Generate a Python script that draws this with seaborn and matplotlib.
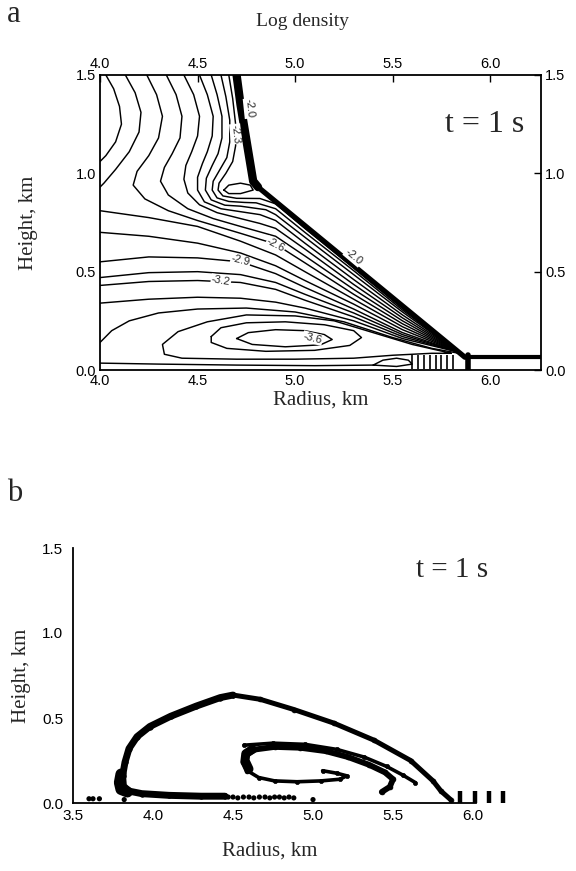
import matplotlib
matplotlib.use("Agg")
import matplotlib.pyplot as plt
import pandas as pd
import seaborn as sns

sns.set_theme(style="white")
plt.rcParams["font.family"] = ["Liberation Sans", "DejaVu Sans"]
SERIF = ["Liberation Serif", "DejaVu Serif"]

# ---------------- panel a: log-density contours (radius km, height km) ----------------
edge_top = [(4.70, 1.50), (4.72, 1.35), (4.745, 1.20), (4.77, 1.05), (4.785, 0.96), (4.81, 0.93)]
edge_slope = [(4.81, 0.93), (5.87, 0.065)]
edge_floor = [(5.87, 0.065), (6.26, 0.065)]
edge_foot = [(5.885, 0.0), (5.885, 0.075)]

c_u1 = [(4.03, 1.50), (4.07, 1.43), (4.10, 1.34), (4.11, 1.25), (4.08, 1.16), (4.03, 1.09), (4.00, 1.06)]
c_u2 = [(4.13, 1.50), (4.18, 1.41), (4.21, 1.31), (4.20, 1.21), (4.15, 1.11), (4.08, 1.02), (4.02, 0.95), (4.00, 0.93)]
c_u3 = [(4.24, 1.50), (4.29, 1.40), (4.32, 1.29), (4.30, 1.18), (4.25, 1.09), (4.19, 1.01), (4.17, 0.94),
        (4.23, 0.87), (4.35, 0.81), (4.50, 0.76), (4.72, 0.695), (4.90, 0.64), (5.05, 0.545), (5.30, 0.385),
        (5.55, 0.235), (5.84, 0.09)]
c_u4 = [(4.34, 1.50), (4.39, 1.40), (4.42, 1.29), (4.41, 1.18), (4.37, 1.10), (4.33, 1.03), (4.31, 0.96),
        (4.35, 0.89), (4.45, 0.82), (4.58, 0.77), (4.72, 0.73), (4.90, 0.68), (5.05, 0.58), (5.30, 0.41),
        (5.55, 0.25), (5.84, 0.09)]
c_u5 = [(4.43, 1.50), (4.48, 1.40), (4.51, 1.29), (4.50, 1.19), (4.47, 1.11), (4.44, 1.04), (4.43, 0.97),
        (4.45, 0.90), (4.51, 0.84), (4.60, 0.80), (4.72, 0.77), (4.82, 0.745), (4.90, 0.72), (5.05, 0.615),
        (5.30, 0.435), (5.55, 0.265), (5.84, 0.09)]
c_u6 = [(4.51, 1.50), (4.55, 1.40), (4.58, 1.29), (4.575, 1.19), (4.55, 1.11), (4.525, 1.05), (4.50, 0.98),
        (4.50, 0.915), (4.535, 0.855), (4.62, 0.82), (4.72, 0.805), (4.82, 0.79), (4.90, 0.76), (5.05, 0.645),
        (5.30, 0.46), (5.55, 0.28), (5.84, 0.09)]
c_u7 = [(4.57, 1.50), (4.60, 1.40), (4.625, 1.29), (4.625, 1.18), (4.605, 1.10), (4.575, 1.04), (4.545, 0.975),
        (4.54, 0.915), (4.57, 0.865), (4.64, 0.838), (4.72, 0.833), (4.85, 0.815), (4.90, 0.79), (5.05, 0.675),
        (5.30, 0.485), (5.55, 0.295), (5.84, 0.09)]
c_u8 = [(4.62, 1.50), (4.645, 1.39), (4.665, 1.27), (4.665, 1.16), (4.65, 1.08), (4.615, 1.02), (4.58, 0.96),
        (4.575, 0.915), (4.60, 0.875), (4.66, 0.857), (4.74, 0.852), (4.80, 0.85), (4.90, 0.82), (5.05, 0.70),
        (5.30, 0.505), (5.55, 0.305), (5.84, 0.09)]
c_u9 = [(4.66, 1.50), (4.68, 1.38), (4.695, 1.25), (4.695, 1.14), (4.68, 1.06), (4.645, 1.00), (4.61, 0.95),
        (4.605, 0.915), (4.63, 0.885), (4.70, 0.873), (4.82, 0.872), (4.90, 0.845), (5.05, 0.72), (5.30, 0.52),
        (5.55, 0.315), (5.84, 0.09)]
c_eye = [(4.635, 0.915), (4.66, 0.94), (4.72, 0.95), (4.77, 0.94), (4.785, 0.915), (4.72, 0.897),
         (4.66, 0.897), (4.635, 0.915)]

fan_r = [4.00, 4.25, 4.50, 4.72, 4.90, 5.05, 5.30, 5.55, 5.84]
c_f8 = [0.81, 0.775, 0.73, 0.655, 0.585, 0.50, 0.36, 0.22, 0.09]
c_f9 = [0.70, 0.68, 0.645, 0.595, 0.53, 0.455, 0.335, 0.205, 0.09]
c_f10 = [0.55, 0.575, 0.57, 0.55, 0.49, 0.42, 0.31, 0.19, 0.09]
c_f11 = [0.47, 0.495, 0.50, 0.485, 0.445, 0.385, 0.29, 0.18, 0.09]
c_f12 = [0.43, 0.45, 0.455, 0.445, 0.41, 0.355, 0.27, 0.17, 0.09]
c_f13 = [0.34, 0.36, 0.37, 0.365, 0.345, 0.315, 0.25, 0.16, 0.09]

c_l4 = [(4.00, 0.14), (4.06, 0.20), (4.15, 0.25), (4.30, 0.29), (4.50, 0.31), (4.75, 0.315), (5.00, 0.295),
        (5.25, 0.245), (5.50, 0.165), (5.70, 0.11), (5.84, 0.085)]
c_l3 = [(5.80, 0.085), (5.60, 0.13), (5.40, 0.19), (5.20, 0.25), (5.00, 0.275), (4.75, 0.28), (4.55, 0.245),
        (4.40, 0.195), (4.32, 0.13), (4.33, 0.08), (4.42, 0.06), (4.70, 0.055), (5.00, 0.055), (5.30, 0.06),
        (5.50, 0.075), (5.70, 0.085), (5.80, 0.085)]
c_l2 = [(4.57, 0.17), (4.62, 0.215), (4.75, 0.24), (4.95, 0.245), (5.15, 0.23), (5.30, 0.20), (5.34, 0.165),
        (5.28, 0.125), (5.10, 0.10), (4.85, 0.095), (4.65, 0.11), (4.57, 0.14), (4.57, 0.17)]
c_l1 = [(4.70, 0.16), (4.76, 0.19), (4.90, 0.205), (5.05, 0.20), (5.15, 0.18), (5.19, 0.155), (5.13, 0.128),
        (4.95, 0.118), (4.78, 0.13), (4.70, 0.16)]
c_floor = [(4.00, 0.035), (4.30, 0.03), (4.70, 0.025), (5.10, 0.022), (5.40, 0.025)]
c_lens = [(5.40, 0.025), (5.45, 0.05), (5.52, 0.06), (5.58, 0.05), (5.60, 0.03), (5.52, 0.018), (5.40, 0.025)]
comb_r = [5.60, 5.63, 5.66, 5.69, 5.72, 5.75, 5.78, 5.81]

contour_tags = [("-2.3", 4.695, 1.20, -84), ("-2.0", 4.765, 1.33, -84), ("-2.0", 5.30, 0.575, -40),
                ("-2.6", 4.90, 0.635, -28), ("-2.9", 4.72, 0.555, -14), ("-3.2", 4.62, 0.455, -10),
                ("-3.6", 5.09, 0.162, -14)]

ticks_r = [4.0, 4.5, 5.0, 5.5, 6.0]
ticks_h = [0.0, 0.5, 1.0, 1.5]

# ---------------- panel b: tracer particles at t = 1 s ----------------
outer_right_r = [5.86, 5.80, 5.75, 5.61, 5.38, 5.13, 4.88, 4.67, 4.50]
outer_right_h = [0.02, 0.07, 0.13, 0.25, 0.37, 0.47, 0.55, 0.61, 0.635]
outer_left_r = [4.50, 4.42, 4.27, 4.11, 3.98, 3.90, 3.85, 3.825, 3.81, 3.815, 3.85, 3.93, 4.10, 4.30, 4.45]
outer_left_h = [0.635, 0.62, 0.57, 0.51, 0.45, 0.39, 0.32, 0.24, 0.16, 0.10, 0.07, 0.055, 0.045, 0.04, 0.04]
knot_r = [3.80, 3.79, 3.80, 3.84]
knot_h = [0.17, 0.12, 0.08, 0.065]
inner_tail_r = [5.06, 5.15, 5.21, 5.17, 5.05, 4.90, 4.76, 4.66, 4.59]
inner_tail_h = [0.19, 0.175, 0.16, 0.14, 0.13, 0.125, 0.13, 0.15, 0.19]
inner_head_r = [4.59, 4.565, 4.58, 4.64, 4.76, 4.92, 5.08, 5.22, 5.35, 5.45, 5.50, 5.48, 5.43]
inner_head_h = [0.19, 0.24, 0.285, 0.315, 0.33, 0.325, 0.305, 0.27, 0.225, 0.18, 0.14, 0.095, 0.065]
inner_knot_r = [4.60, 4.575, 4.58, 4.62]
inner_knot_h = [0.20, 0.25, 0.29, 0.315]
strand_r = [4.57, 4.75, 4.95, 5.15, 5.32, 5.46, 5.56, 5.64]
strand_h = [0.34, 0.352, 0.345, 0.315, 0.27, 0.215, 0.165, 0.12]
floor_dots_r = [3.60, 3.625, 3.665, 3.82, 4.47, 4.50, 4.53, 4.565, 4.60, 4.63, 4.665, 4.70, 4.73, 4.76,
                4.79, 4.82, 4.85, 4.88, 5.00]
floor_dots_h = [0.025, 0.025, 0.025, 0.02, 0.035, 0.035, 0.03, 0.035, 0.035, 0.03, 0.035, 0.035, 0.03,
                0.035, 0.035, 0.03, 0.035, 0.03, 0.02]
edge_dash_r = [5.92, 6.01, 6.10, 6.19]
edge_dash_lo = [0.0, 0.0, 0.0, 0.0]
edge_dash_hi = [0.07, 0.07, 0.07, 0.07]
ticks_r_b = [3.5, 4.0, 4.5, 5.0, 5.5, 6.0]

W, H = 576, 871
fig = plt.figure(figsize=(W / 100, H / 100), dpi=100)


def box(left, top, right, bottom):
    return [left / W, 1 - bottom / H, (right - left) / W, (bottom - top) / H]


def trace(ax, pts, lw=1.0, **kw):
    df = pd.DataFrame(pts, columns=["r", "h"])
    if "marker" in kw:
        kw.setdefault("markeredgecolor", "black")
        kw.setdefault("markerfacecolor", "black")
        kw.setdefault("markeredgewidth", 0.5)
    sns.lineplot(data=df, x="r", y="h", sort=False, estimator=None, color="black",
                 lw=lw, ax=ax, legend=False, **kw)


ax_a = fig.add_axes(box(100, 75, 541, 370))
for path in [c_u1, c_u2, c_u3, c_u4, c_u5, c_u6, c_u7, c_u8, c_u9, c_eye, c_l4, c_l3, c_l2, c_l1,
             c_floor, c_lens]:
    trace(ax_a, path, lw=1.05)
for ys in [c_f8, c_f9, c_f10, c_f11, c_f12, c_f13]:
    trace(ax_a, list(zip(fan_r, ys)), lw=1.05)
ax_a.vlines(comb_r, 0.004, 0.075, color="black", lw=1.2)
trace(ax_a, edge_top, lw=6.0, solid_capstyle="round")
trace(ax_a, edge_slope, lw=3.8, solid_capstyle="round")
trace(ax_a, edge_floor, lw=3.0)
trace(ax_a, edge_foot, lw=4.0)
for text, x, y, rot in contour_tags:
    ax_a.text(x, y, text, rotation=rot, ha="center", va="center", fontsize=8, zorder=6,
              bbox=dict(boxstyle="square,pad=0.05", fc="white", ec="none"))
ax_a.text(5.97, 1.25, "t = 1 s", family=SERIF, fontsize=23, ha="center", va="center")

ax_a.set_xlim(4.0, 6.26)
ax_a.set_ylim(0.0, 1.5)
ax_a.set_xticks(ticks_r)
ax_a.set_xticklabels([f"{v:.1f}" for v in ticks_r])
ax_a.set_yticks(ticks_h)
ax_a.set_yticklabels([f"{v:.1f}" for v in ticks_h])
ax_a.tick_params(direction="in", length=5, width=1, top=True, right=True, labeltop=True,
                 labelright=True, labelsize=10.5, pad=3, colors="black")
for s in ax_a.spines.values():
    s.set_color("black")
    s.set_linewidth(1.3)
ax_a.set_xlabel("Radius, km", family=SERIF, fontsize=15)
ax_a.xaxis.set_label_coords(0.5, -0.07)
ax_a.set_ylabel("Height, km", family=SERIF, fontsize=15)
ax_a.yaxis.set_label_coords(-0.14, 0.5)

ax_b = fig.add_axes(box(73, 548, 513, 803))
trace(ax_b, list(zip(outer_right_r, outer_right_h)), lw=3.6, marker="o", markersize=3.5)
trace(ax_b, list(zip(outer_left_r, outer_left_h)), lw=5.0, marker="o", markersize=4)
trace(ax_b, list(zip(knot_r, knot_h)), lw=8.0, solid_capstyle="round")
trace(ax_b, list(zip(inner_tail_r, inner_tail_h)), lw=2.6, marker="o", markersize=3)
trace(ax_b, list(zip(inner_head_r, inner_head_h)), lw=4.2, marker="o", markersize=3.5)
trace(ax_b, list(zip(inner_knot_r, inner_knot_h)), lw=6.5, solid_capstyle="round")
trace(ax_b, list(zip(strand_r, strand_h)), lw=2.6, marker="o", markersize=3)
sns.scatterplot(x=floor_dots_r, y=floor_dots_h, color="black", s=14, marker="o", ax=ax_b,
                legend=False, clip_on=False, edgecolor="none")
ax_b.vlines(edge_dash_r, edge_dash_lo, edge_dash_hi, color="black", lw=3.2)
ax_b.text(5.87, 1.37, "t = 1 s", family=SERIF, fontsize=21, ha="center", va="center")

ax_b.set_xlim(3.5, 6.25)
ax_b.set_ylim(0.0, 1.5)
ax_b.set_xticks(ticks_r_b)
ax_b.set_xticklabels([f"{v:.1f}" for v in ticks_r_b])
ax_b.set_yticks(ticks_h)
ax_b.set_yticklabels([f"{v:.1f}" for v in ticks_h])
ax_b.tick_params(axis="x", direction="inout", length=7, width=1, labelsize=11, pad=1, colors="black")
ax_b.tick_params(axis="y", direction="out", length=5, width=1, labelsize=11, pad=2, colors="black")
for side in ["top", "right"]:
    ax_b.spines[side].set_visible(False)
for side in ["left", "bottom"]:
    ax_b.spines[side].set_color("black")
    ax_b.spines[side].set_linewidth(1.3)
ax_b.spines["bottom"].set_bounds(3.5, 6.02)
ax_b.spines["left"].set_bounds(0.0, 1.5)
ax_b.set_xlabel("Radius, km", family=SERIF, fontsize=15)
ax_b.xaxis.set_label_coords(0.448, -0.15)
ax_b.set_ylabel("Height, km", family=SERIF, fontsize=15)
ax_b.yaxis.set_label_coords(-0.095, 0.5)

fig.text(303 / W, 1 - 22 / H, "Log density", family=SERIF, fontsize=14, ha="center", va="center")
fig.text(14 / W, 1 - 14 / H, "a", family=SERIF, fontsize=22, ha="center", va="center")
fig.text(15 / W, 1 - 493 / H, "b", family=SERIF, fontsize=22, ha="center", va="center")

fig.savefig("out.png", dpi=100, facecolor="white")
